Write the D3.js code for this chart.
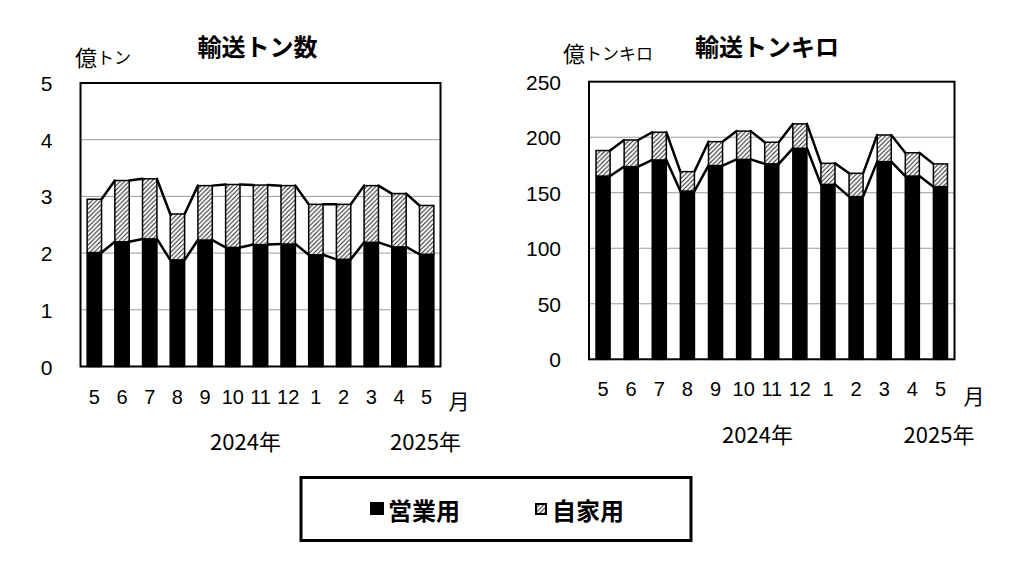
<!DOCTYPE html>
<html><head><meta charset="utf-8">
<script src="https://cdn.jsdelivr.net/npm/d3@7"></script>
<style>
body{margin:0;background:#fff;}
svg{display:block;}
</style></head>
<body>
<svg id="c" width="1024" height="565"></svg>
<script>
// ---- data ----
const months = ["5","6","7","8","9","10","11","12","1","2","3","4","5"];
// 輸送トン数 (億トン)
const tonEigyo = [2.01,2.20,2.25,1.88,2.23,2.10,2.15,2.16,1.97,1.89,2.19,2.11,1.98];
const tonJika  = [0.94,1.08,1.06,0.81,0.96,1.11,1.05,1.03,0.89,0.97,1.00,0.94,0.86];
const tonTicks = [0,1,2,3,4,5];
// 輸送トンキロ (億トンキロ)
const tkmEigyo = [165,173.5,179.5,151.5,174.5,180,176,190,157.5,146.5,178,165,155.5];
const tkmJika  = [23,24,25,17.5,21.5,25.5,19.5,22,19,21,24,21,20.5];
const tkmTicks = [0,50,100,150,200,250];
const seriesNames = ["営業用","自家用"];

const svg = d3.select("#c");
const JP = "'Noto Sans CJK JP','Noto Sans',sans-serif";
const LAT = "'Liberation Sans',Arial,sans-serif";

svg.append("rect").attr("width",1024).attr("height",565).attr("fill","#fff");

const defs = svg.append("defs");
const pat = defs.append("pattern").attr("id","hatch").attr("patternUnits","userSpaceOnUse")
  .attr("width",4.5).attr("height",4.5);
pat.append("rect").attr("width",4.5).attr("height",4.5).attr("fill","#fff");
pat.append("path").attr("d","M0,4.5 L4.5,0 M-1,1 L1,-1 M3.5,5.5 L5.5,3.5")
  .attr("stroke","#222").attr("stroke-width",1);

function drawChart(cfg){
  const g = svg.append("g");
  const x = d3.scaleBand().domain(d3.range(months.length)).range([cfg.x0,cfg.x1])
    .paddingInner(cfg.pad).paddingOuter(cfg.pad/2);
  const y = d3.scaleLinear().domain([0,cfg.max]).range([cfg.y1,cfg.y0]);

  // gridlines
  g.append("g").selectAll("line").data(cfg.ticks.filter(t=>t>0&&t<cfg.max)).join("line")
    .attr("x1",cfg.x0).attr("x2",cfg.x1).attr("y1",d=>y(d)).attr("y2",d=>y(d))
    .attr("stroke","#9a9a9a").attr("stroke-width",1);

  const stack = d3.stack().keys([0,1])(cfg.eigyo.map((v,i)=>({0:v,1:cfg.jika[i]})));

  // bars
  stack.forEach((layer,li)=>{
    g.append("g").selectAll("rect").data(layer).join("rect")
      .attr("x",(d,i)=>x(i)).attr("width",x.bandwidth())
      .attr("y",d=>y(d[1])).attr("height",d=>y(d[0])-y(d[1]))
      .attr("fill", li===0 ? "#000" : "url(#hatch)")
      .attr("stroke","#000").attr("stroke-width",1.5);
  });

  // series lines
  stack.forEach(layer=>{
    const segs = [];
    for(let i=0;i<layer.length-1;i++){
      segs.push([[x(i)+x.bandwidth(), y(layer[i][1])],[x(i+1), y(layer[i+1][1])]]);
    }
    g.append("g").selectAll("line").data(segs).join("line")
      .attr("x1",d=>d[0][0]).attr("y1",d=>d[0][1]).attr("x2",d=>d[1][0]).attr("y2",d=>d[1][1])
      .attr("stroke","#000").attr("stroke-width",2.5).attr("stroke-linecap","round");
  });

  // frame
  g.append("rect").attr("x",cfg.x0).attr("y",cfg.y0).attr("width",cfg.x1-cfg.x0).attr("height",cfg.y1-cfg.y0)
    .attr("fill","none").attr("stroke","#000").attr("stroke-width",2);

  // y axis
  const ya = g.append("g").attr("transform",`translate(${cfg.x0},0)`)
    .call(d3.axisLeft(y).tickValues(cfg.ticks).tickFormat(d3.format("d")).tickSize(0).tickPadding(28));
  ya.select(".domain").remove();
  ya.selectAll("text").attr("dy",null).attr("dominant-baseline","central")
    .attr("font-family",LAT).attr("font-size",21).attr("fill","#000");

  // x axis
  const xa = g.append("g").attr("transform",`translate(0,${cfg.y1})`)
    .call(d3.axisBottom(x).tickFormat(i=>months[i]).tickSize(0));
  xa.select(".domain").remove();
  xa.selectAll("text").attr("dy",null).attr("y",30).attr("dominant-baseline","central")
    .attr("font-family",LAT).attr("font-size",20).attr("fill","#000");

  // 月
  g.append("text").attr("x",cfg.monX).attr("y",cfg.monY).attr("text-anchor","middle")
    .attr("dominant-baseline","central").attr("font-family",JP).attr("font-size",21).text("月");
  // years
  cfg.years.forEach(yr=>{
    g.append("text").attr("x",yr.x).attr("y",yr.y).attr("text-anchor","middle")
      .attr("dominant-baseline","central").attr("font-family",JP).attr("font-size",22).text(yr.t);
  });
  // title
  g.append("text").attr("x",cfg.titleX).attr("y",45).attr("text-anchor","middle")
    .attr("dominant-baseline","central").attr("font-family",JP).attr("font-weight","bold")
    .attr("font-size",24).text(cfg.title);
  // unit
  const u = g.append("text").attr("x",cfg.unitX).attr("y",cfg.unitY)
    .attr("dominant-baseline","central").attr("font-family",JP).attr("font-size",22);
  u.append("tspan").text("億");
  u.append("tspan").attr("font-size",17).text(cfg.unit);
}

drawChart({x0:80.5,x1:440.5,y0:83,y1:366.5,max:5,ticks:tonTicks,pad:0.48,
  eigyo:tonEigyo,jika:tonJika,title:"輸送トン数",titleX:257.5,
  unit:"トン",unitX:75,unitY:56,monX:459,monY:400,
  years:[{t:"2024年",x:245.5,y:440},{t:"2025年",x:425.5,y:440}]});

drawChart({x0:589,x1:954.5,y0:81.7,y1:359.3,max:250,ticks:tkmTicks,pad:0.5,
  eigyo:tkmEigyo,jika:tkmJika,title:"輸送トンキロ",titleX:767,
  unit:"トンキロ",unitX:563,unitY:52,monX:974,monY:395,
  years:[{t:"2024年",x:757.5,y:433},{t:"2025年",x:939,y:433}]});

// legend
const lg = svg.append("g");
lg.append("rect").attr("x",301).attr("y",477.5).attr("width",390).attr("height",63)
  .attr("fill","#fff").attr("stroke","#000").attr("stroke-width",3);
lg.append("rect").attr("x",370).attr("y",502).attr("width",14).attr("height",13).attr("fill","#000");
lg.append("text").attr("x",388).attr("y",509).attr("dominant-baseline","central")
  .attr("font-family",JP).attr("font-size",24).attr("font-weight","bold").text(seriesNames[0]);
lg.append("rect").attr("x",536).attr("y",504).attr("width",10).attr("height",10)
  .attr("fill","url(#hatch)").attr("stroke","#000").attr("stroke-width",2);
lg.append("text").attr("x",552).attr("y",509).attr("dominant-baseline","central")
  .attr("font-family",JP).attr("font-size",24).attr("font-weight","bold").text(seriesNames[1]);
</script>
</body></html>
